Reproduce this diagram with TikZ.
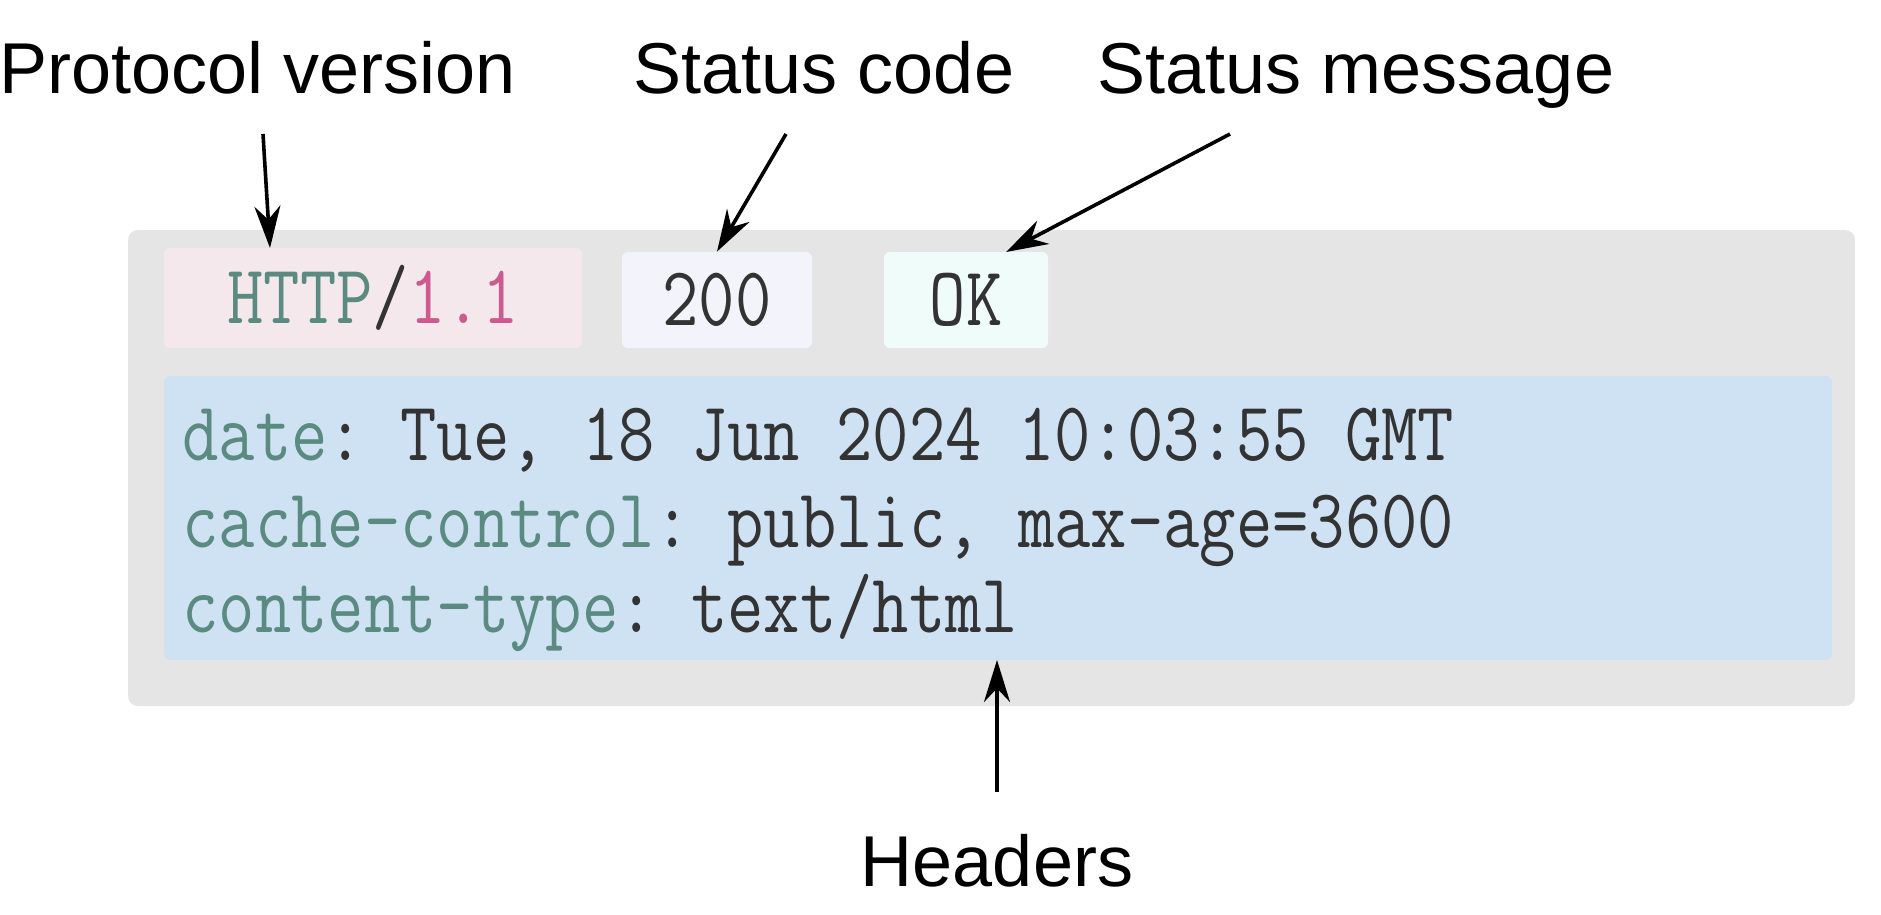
\documentclass[tikz,border=0pt]{standalone}
\usepackage{fontspec}
\setmainfont{Liberation Sans}
\setmonofont[FakeStretch=0.84]{Latin Modern Mono}
\usetikzlibrary{arrows.meta,positioning}
\definecolor{frameFill}{HTML}{E5E5E5}
\definecolor{verFill}{HTML}{F4E8EC}
\definecolor{codeFill}{HTML}{F3F3FC}
\definecolor{msgFill}{HTML}{F0FCFA}
\definecolor{hdrFill}{HTML}{CFE2F3}
\definecolor{keyText}{HTML}{5A8A80}
\definecolor{valText}{HTML}{333333}
\definecolor{numText}{HTML}{CC5A8F}
\newcommand\hkey[1]{\textcolor{keyText}{#1}}
\tikzset{
  x=0.5pt, y=-0.5pt,
  lbl/.style  ={font=\fontsize{36}{40}\selectfont, inner sep=0pt, anchor=base},
  mono/.style ={font=\ttfamily\fontsize{42}{46}\selectfont, text=valText, inner sep=0pt},
  chip/.style ={mono, rounded corners=3pt, draw=none},
  ptr/.style  ={-{Stealth[length=21pt,width=13pt]}, line width=1.8pt},
}

\begin{document}
\begin{tikzpicture}
  \useasboundingbox (0,0) rectangle (1881,915);
  % message frame
  \node[fill=frameFill, rounded corners=5pt, minimum width=863.5pt, minimum height=238pt] (frame) at (991.5,468) {};
  % status line
  \node[chip, fill=verFill,  minimum width=209pt, minimum height=50pt] (ver)  at (373,298) {\hkey{HTTP}/\textcolor{numText}{1.1}};
  \node[chip, fill=codeFill, minimum width=95pt,  minimum height=48pt] (code) at (717,300) {200};
  \node[chip, fill=msgFill,  minimum width=82pt,  minimum height=48pt] (msg)  at (966,300) {OK};
  % headers
  \node[chip, fill=hdrFill, minimum width=834pt, minimum height=142pt] (hdr) at (998,518) {};
  \node[mono, anchor=base west] (h1) at (182,460) {\hkey{date}: Tue, 18 Jun 2024 10:03:55 GMT};
  \node[mono, anchor=base west] (h2) at (182,547) {\hkey{cache-control}: public, max-age=3600};
  \node[mono, anchor=base west] (h3) at (182,632) {\hkey{content-type}: text/html};
  % labels
  \node[lbl] (lver)  at (258,94)  {Protocol version};
  \node[lbl] (lcode) at (824,94)  {Status code};
  \node[lbl] (lmsg)  at (1356,94) {Status message};
  \node[lbl] (lhdr)  at (997,886) {Headers};
  \coordinate (sver)  at (263,134);
  \coordinate (scode) at (786,134);
  \coordinate (smsg)  at (1230,134);
  \coordinate (shdr)  at (997,792);
  \coordinate (ever)  at (270,248);
  \coordinate (emsg)  at (1006,252);
  \coordinate (ehdr)  at (997,660);

  \draw[ptr] (sver)  -- (ever);
  \draw[ptr] (scode) -- (code.north);
  \draw[ptr] (smsg)  -- (emsg);
  \draw[ptr] (shdr)  -- (ehdr);
\end{tikzpicture}
\end{document}
